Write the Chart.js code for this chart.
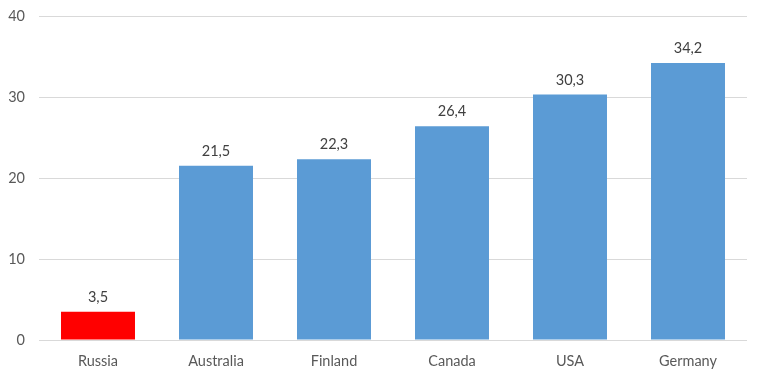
<!DOCTYPE html>
<html>
<head>
<meta charset="utf-8">
<script src="https://cdn.jsdelivr.net/npm/chart.js@4"></script>
<style>
html,body{margin:0;padding:0;background:#fff;}
#wrap{width:764px;height:385px;}
</style>
</head>
<body>
<div id="wrap"><canvas id="c" width="764" height="385"></canvas></div>
<script>
const categories = ["Russia", "Australia", "Finland", "Canada", "USA", "Germany"];
const values = [3.5, 21.5, 22.3, 26.4, 30.3, 34.2];
const barColors = ["#ff0000", "#5b9bd5", "#5b9bd5", "#5b9bd5", "#5b9bd5", "#5b9bd5"];
const yTicks = [0, 10, 20, 30, 40];

const FONT = 'Lato, "Open Sans", sans-serif';

const labelPlugin = {
  id: 'vals',
  afterDatasetsDraw(chart) {
    const ctx = chart.ctx;
    const meta = chart.getDatasetMeta(0);
    ctx.save();
    ctx.font = '14.5px ' + FONT;
    ctx.fillStyle = '#404040';
    ctx.textAlign = 'center';
    ctx.textBaseline = 'alphabetic';
    meta.data.forEach((bar, i) => {
      ctx.fillText(values[i].toFixed(1).replace('.', ','), bar.x, bar.y - 10);
    });
    ctx.restore();
  }
};

new Chart(document.getElementById('c'), {
  type: 'bar',
  data: {
    labels: categories,
    datasets: [{ data: values, backgroundColor: barColors, barPercentage: 0.627, categoryPercentage: 1 }]
  },
  options: {
    responsive: false,
    animation: false,
    devicePixelRatio: 1,
    layout: { padding: { top: 16, right: 17, left: 0, bottom: 0 } },
    plugins: { legend: { display: false }, tooltip: { enabled: false } },
    scales: {
      x: {
        grid: { display: false, drawTicks: false },
        border: { display: false },
        ticks: { color: '#595959', font: { family: FONT, size: 14.5 }, padding: 13 },
        afterFit(s) { s.height = 45; s.paddingLeft = 0; s.paddingRight = 0; }
      },
      y: {
        min: 0, max: 40,
        afterBuildTicks(s) { s.ticks = yTicks.map(v => ({ value: v })); },
        grid: { color: '#d9d9d9', drawTicks: false },
        border: { display: false },
        ticks: { color: '#595959', font: { family: FONT, size: 14.5 }, padding: 14 },
        afterFit(s) { s.width = 39; s.paddingTop = 0; s.paddingBottom = 0; }
      }
    }
  },
  plugins: [labelPlugin]
});
</script>
</body>
</html>
